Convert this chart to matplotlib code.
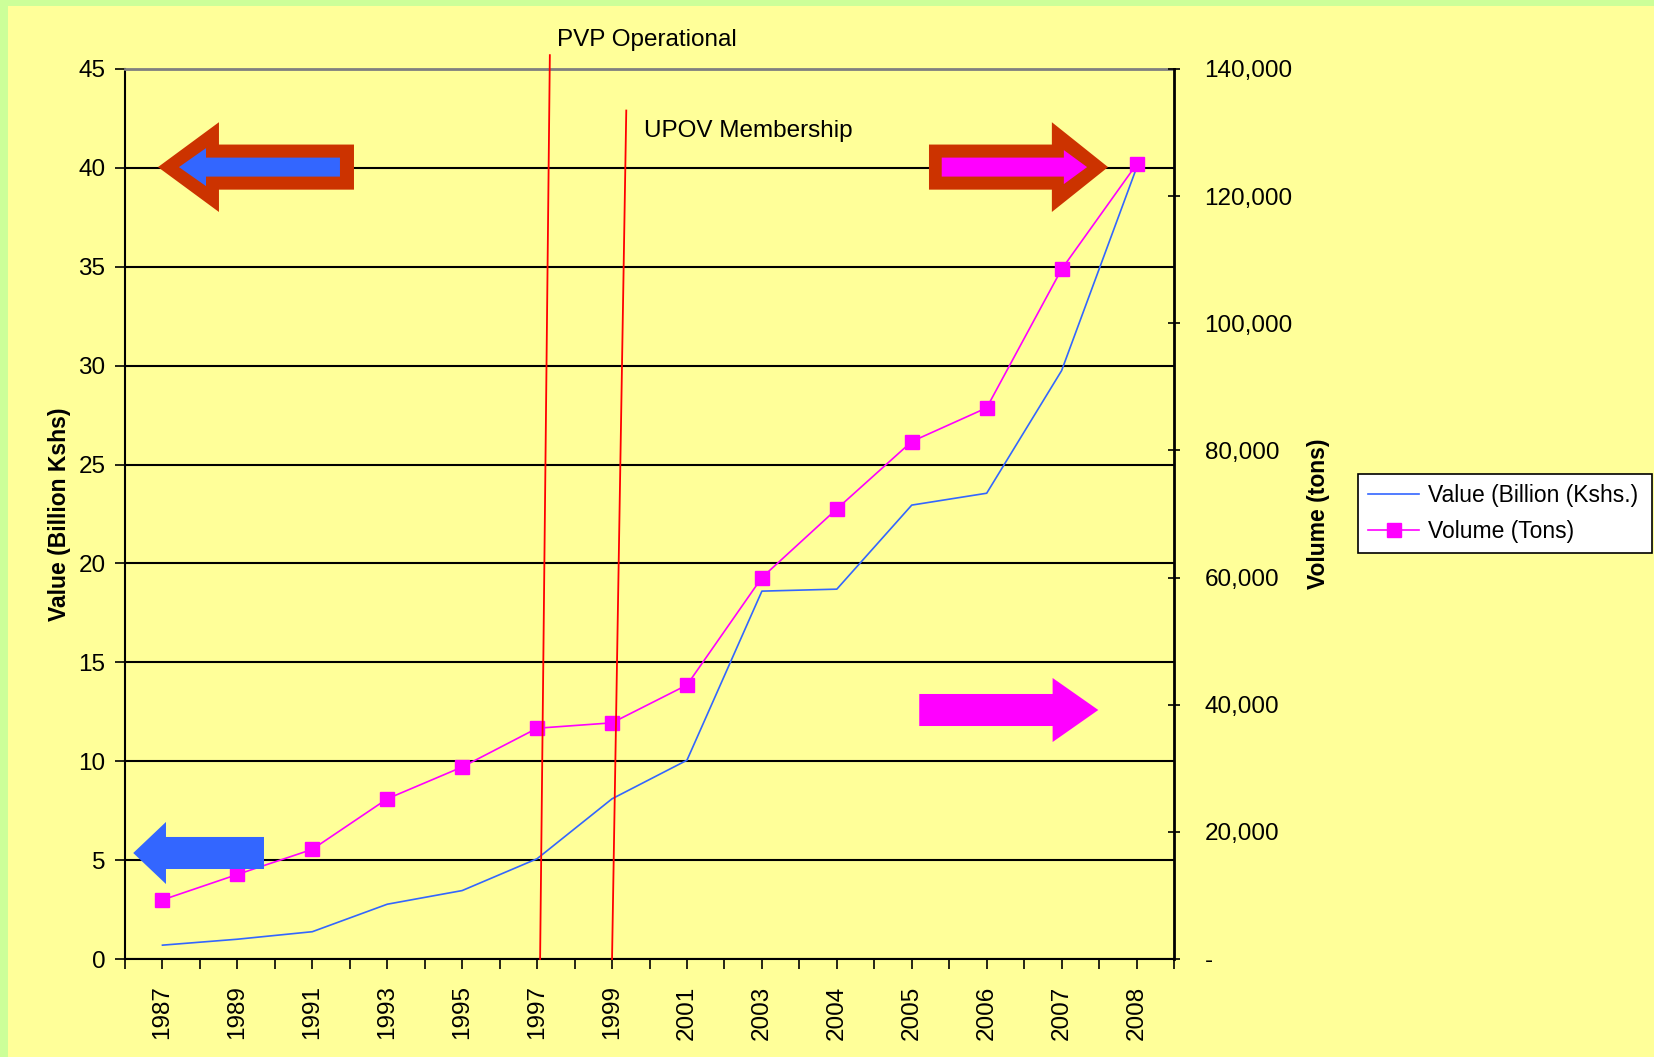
import matplotlib
matplotlib.use("Agg")
import matplotlib.pyplot as plt
from matplotlib.patches import Polygon, Rectangle
from matplotlib.ticker import FuncFormatter, FixedLocator

plt.rcParams['font.family'] = ['Liberation Sans', 'DejaVu Sans']

years = ['1987', '1989', '1991', '1993', '1995', '1997', '1999', '2001',
         '2003', '2004', '2005', '2006', '2007', '2008']
value_bn = [0.7, 1.0, 1.38, 2.77, 3.46, 5.07, 8.1, 10.05,
            18.6, 18.7, 22.95, 23.55, 29.75, 40.0]
volume_tons = [9300, 13300, 17250, 25200, 30200, 36300, 37150, 43100,
               60000, 70800, 81400, 86700, 108500, 125000]

YELLOW = '#FFFF99'
GREEN = '#CCFF99'
BLUE = '#3366FF'
MAGENTA = '#FF00FF'
BRICK = '#CC3300'

fig = plt.figure(figsize=(16.54, 10.57), dpi=100, facecolor=GREEN)
# yellow slide panel (green strip only on top and left)
fig.patches.append(Rectangle((8 / 1654, 0), 1, 1 - 6 / 1057,
                             transform=fig.transFigure, facecolor=YELLOW,
                             edgecolor='none', zorder=-10))

ax = fig.add_axes([125 / 1654, 1 - 959 / 1057, 1049 / 1654, 890 / 1057])
ax.set_facecolor('none')
ax2 = ax.twinx()
ax2.set_facecolor('none')

x = list(range(len(years)))

ax.plot(x, value_bn, color=BLUE, lw=1.2, label='Value (Billion (Kshs.)', zorder=3)
ax2.plot(x, volume_tons, color=MAGENTA, lw=1.2, marker='s', markersize=10.5,
         markeredgecolor=MAGENTA, label='Volume (Tons)', zorder=3)

ax.set_xlim(-0.5, len(years) - 0.5)
ax.set_ylim(0, 45)
ax2.set_ylim(0, 140000)

ax.set_yticks(range(0, 46, 5))
ax.yaxis.grid(True, color='black', lw=1.5)
ax.set_axisbelow(True)
ax.tick_params(axis='y', labelsize=17.5, length=7, width=1.2, direction='out', pad=7)

ax.xaxis.set_major_locator(FixedLocator(x))
ax.set_xticklabels(years, rotation=90)
ax.xaxis.set_minor_locator(FixedLocator([i - 0.5 for i in range(len(years) + 1)]))
ax.tick_params(axis='x', which='both', length=7, width=1.2, direction='out')
ax.tick_params(axis='x', which='major', labelsize=17.5, pad=12)

ax2.set_yticks(range(0, 140001, 20000))
ax2.yaxis.set_major_formatter(FuncFormatter(lambda v, p: '-' if v == 0 else f'{v:,.0f}'))
ax2.tick_params(axis='y', labelsize=17.5, length=8, width=1.2, direction='inout', pad=18)

for s in ['left', 'bottom']:
    ax.spines[s].set_color('black')
    ax.spines[s].set_linewidth(1.5)
ax.spines['top'].set_color('#808080')
ax.spines['top'].set_linewidth(2)
ax.spines['right'].set_visible(False)
for s in ['left', 'bottom', 'top']:
    ax2.spines[s].set_visible(False)
ax2.spines['right'].set_color('black')
ax2.spines['right'].set_linewidth(2)

ax.set_ylabel('Value (Billion Kshs)', fontsize=16.5, fontweight='bold', labelpad=5)
ax2.set_ylabel('Volume (tons)', fontsize=16.5, fontweight='bold', labelpad=10)


def block_arrow(tail, tip, head_base, yc, shaft_h, head_h, color):
    pts = [(tail, yc - shaft_h), (head_base, yc - shaft_h), (head_base, yc - head_h),
           (tip, yc), (head_base, yc + head_h), (head_base, yc + shaft_h),
           (tail, yc + shaft_h)]
    ax2.add_patch(Polygon(pts, closed=True, facecolor=color, edgecolor='none',
                          transform=ax.transData, clip_on=False, zorder=5))


# top-left: brick outline arrow with blue inner
block_arrow(2.556, -0.06, 0.754, 40.04, 1.14, 2.27, BRICK)
block_arrow(2.369, 0.22, 0.581, 40.04, 0.48, 0.96, BLUE)
# top-right: brick outline arrow with magenta inner
block_arrow(10.23, 12.62, 11.87, 40.04, 1.14, 2.27, BRICK)
block_arrow(10.40, 12.34, 12.03, 40.04, 0.48, 0.86, MAGENTA)
# plain arrows
block_arrow(10.10, 12.49, 11.88, 12.59, 0.81, 1.62, MAGENTA)
block_arrow(1.355, -0.39, 0.047, 5.36, 0.81, 1.57, BLUE)

# policy event markers
ax2.plot([5.04, 5.17], [0, 45.7], color='red', lw=1.3, transform=ax.transData,
         clip_on=False, zorder=6)
ax2.plot([6.0, 6.19], [0, 42.9], color='red', lw=1.3, transform=ax.transData,
         clip_on=False, zorder=6)
ax2.text(5.27, 46.45, 'PVP Operational', fontsize=17.5, va='center', ha='left',
         transform=ax.transData)
ax2.text(6.42, 41.85, 'UPOV Membership', fontsize=17.5, va='center', ha='left',
         transform=ax.transData)

h1, l1 = ax.get_legend_handles_labels()
h2, l2 = ax2.get_legend_handles_labels()
leg = fig.legend(h1 + h2, l1 + l2, loc='lower left',
                 bbox_to_anchor=(1358 / 1654, 1 - 553 / 1057, 294 / 1654, 79 / 1057),
                 mode='expand', fontsize=16.5, frameon=True, fancybox=False,
                 borderaxespad=0, handlelength=2.2, handletextpad=0.4,
                 labelspacing=0.55, borderpad=0.45)
leg.get_frame().set_edgecolor('black')
leg.get_frame().set_linewidth(1.2)
leg.get_frame().set_facecolor('white')
leg.get_frame().set_alpha(1)

fig.savefig('out.png', dpi=100, facecolor=GREEN)
